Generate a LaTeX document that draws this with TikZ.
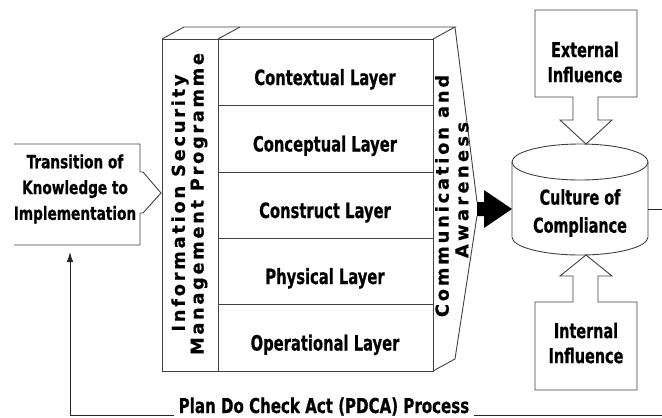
\documentclass[tikz,border=0pt]{standalone}
\usepackage{fontspec}
\usetikzlibrary{arrows.meta}
\newfontfamily\lblfont[FakeStretch=0.78, FakeBold=0.6]{DejaVu Sans Condensed}
\newfontfamily\smallfont[FakeStretch=0.83, FakeBold=0.6]{DejaVu Sans Condensed}
\newfontfamily\pdcafont[FakeStretch=0.816, FakeBold=0.6]{DejaVu Sans Condensed}
\newfontfamily\rotfont[FakeBold=0.6]{DejaVu Sans}
\tikzset{
  frame/.style={draw=black!75, line width=0.9pt, line join=miter},
  layertext/.style={font=\lblfont\bfseries\fontsize{21}{25}\selectfont, inner sep=0pt, anchor=base},
  boxtext/.style={font=\lblfont\bfseries\fontsize{20.5}{28}\selectfont, inner sep=0pt, align=center},
  smalltext/.style={font=\smallfont\bfseries\fontsize{18.3}{25.8}\selectfont, inner sep=0pt, align=center},
  sidetext/.style={font=\rotfont\bfseries\fontsize{17.8}{20}\selectfont, inner sep=0pt, rotate=90},
  loop/.style={draw=black!85, line width=0.9pt},
}
\begin{document}
\begin{tikzpicture}[x=1pt, y=-1pt]
\useasboundingbox (0,0) rectangle (662,418);

% ---- programme block: front face, layer rows and top face
\draw[frame] (162,39) rectangle (433,371);
\draw[frame] (218,39) -- (218,371);
\foreach \yy in {105,172,238,304} \draw[frame] (218,\yy) -- (433,\yy);
\draw[frame] (162,39) -- (184,27) -- (455,27) -- (433,39);
\draw[frame] (218,39) -- (240,27);

% ---- communication panel on the right side of the block
\draw[frame] (455,27) -- (477,202);
\draw[frame] (477,216) -- (455,359) -- (433,371);
\fill[black] (477,202) -- (484,202) -- (484,190) -- (512,209) -- (484,228) -- (484,216) -- (477,216) -- cycle;

% ---- layer labels
\node[layertext] (contextual)  at (325,85)    {Contextual Layer};
\node[layertext] (conceptual)  at (325,151.5) {Conceptual Layer};
\node[layertext] (construct)   at (325,218)   {Construct Layer};
\node[layertext] (physical)    at (325,284)   {Physical Layer};
\node[layertext] (operational) at (325,350.5) {Operational Layer};

% ---- vertical labels
\node[sidetext] (ismp1) at (180,203) {\addfontfeature{LetterSpace=15.5}Information Security};
\node[sidetext] (ismp2) at (199,204) {\addfontfeature{LetterSpace=15}Management Programme};
\node[sidetext] (comm1) at (442,196) {\addfontfeature{LetterSpace=16}Communication and};
\node[sidetext] (comm2) at (462,190) {\addfontfeature{LetterSpace=19}Awareness};

% ---- transition box with its notched arrow
\draw[frame] (14,144) -- (140,144) -- (140,172) -- (143,172) -- (161,193)
  -- (143,213) -- (140,213) -- (140,245) -- (14,245);
\node[smalltext] (transition) at (75,189) {Transition of\\Knowledge to\\Implementation};

% ---- culture of compliance cylinder
\filldraw[frame, fill=white] (512,162) -- (512,237) arc[start angle=180, end angle=360, x radius=68, y radius=-18] -- (648,162);
\draw[frame] (580,162) ellipse[x radius=68, y radius=18];
\node[boxtext] (culture) at (580,213) {Culture of\\Compliance};

% ---- influence boxes with arrows onto the cylinder
\draw[frame] (586,144) -- (560,120) -- (573,120) -- (573,97) -- (535,97) -- (535,10)
  -- (637,10) -- (637,97) -- (598,97) -- (598,120) -- (612,120) -- cycle;
\node[boxtext, font=\lblfont\bfseries\fontsize{20.5}{25}\selectfont] (external) at (585,62) {External\\Influence};
\draw[frame] (586,255) -- (612,276) -- (598,276) -- (598,302) -- (637,302) -- (637,390)
  -- (535,390) -- (535,302) -- (573,302) -- (573,276) -- (560,276) -- cycle;
\node[boxtext, font=\lblfont\bfseries\fontsize{20.5}{25}\selectfont] (internal) at (586,343) {Internal\\Influence};

% ---- PDCA feedback loop
\node[font=\pdcafont\bfseries\fontsize{20.5}{24}\selectfont, inner sep=0pt, anchor=base] (pdca) at (324,413) {Plan Do Check Act (PDCA) Process};
\coordinate (loopin) at (70,252);
\coordinate (loopout) at (662,415);
\coordinate (cultureout) at (662,209);
\draw[loop] (648,209) -- (cultureout);
\draw[loop, -{Latex[length=10pt, width=6.5pt]}] ([xshift=-5pt]pdca.west |- loopout) -| (loopin);
\draw[loop] ([xshift=5pt]pdca.east |- loopout) -- (loopout);
\end{tikzpicture}
\end{document}
